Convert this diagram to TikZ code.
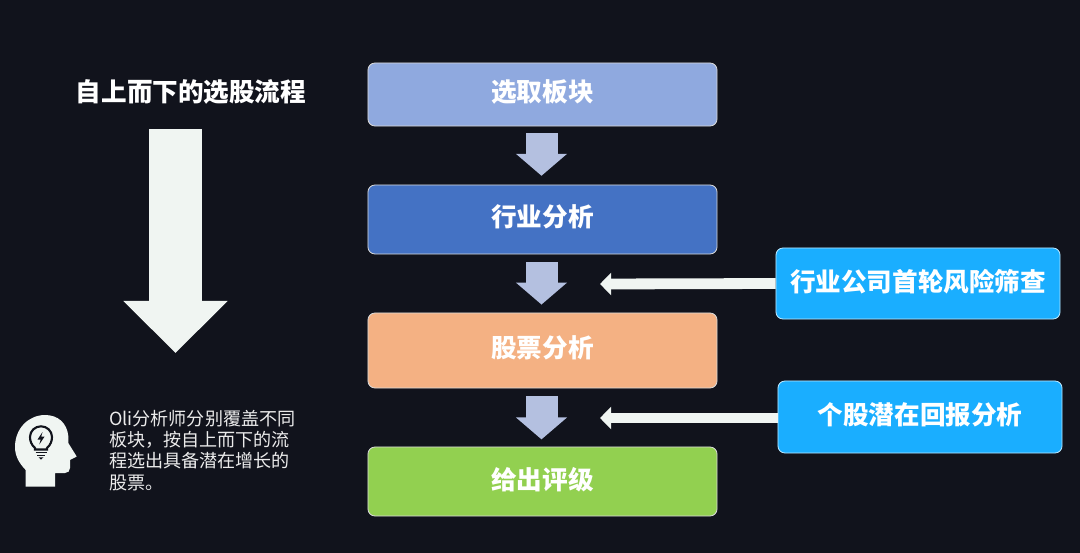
\documentclass[tikz,border=0pt]{standalone}
\usepackage{fontspec}
\newfontfamily\cjk{Noto Sans CJK SC}
\usetikzlibrary{arrows.meta}
\definecolor{bgdark}{HTML}{11131C}
\definecolor{arrowpale}{HTML}{F0F5F2}
\definecolor{arrowblue}{HTML}{B4C0E0}
\definecolor{stepblue}{HTML}{8FA9DF}
\definecolor{stepdeep}{HTML}{4472C4}
\definecolor{steporange}{HTML}{F4B183}
\definecolor{stepgreen}{HTML}{92D050}
\definecolor{sideblue}{HTML}{1AAEFF}
\begin{document}
\begin{tikzpicture}[
        x=0.025cm, y=-0.025cm,
        font=\cjk,
        stepbox/.style={draw=white!85!black, line width=0.6pt, rounded corners=5pt, minimum width=8.725cm, text=white, align=center, text depth=5pt, font=\cjk\bfseries\fontsize{18.2}{22}\selectfont},
        sidebox/.style={stepbox, draw=white!70!sideblue, fill=sideblue, minimum width=7.1cm},
        downarrow/.style={draw=arrowblue, line width=0.8cm, -{Triangle[length=0.55cm, width=1.25cm]}},
        sidearrow/.style={draw=arrowpale, line width=0.27cm, -{Triangle[length=0.28cm, width=0.55cm]}},
    ]

    %====================== FUNDO ======================
    \fill[bgdark] (0,0) rectangle (1080,553);
    \useasboundingbox (0,0) rectangle (1080,553);

    %====================== ETAPAS ======================
    \node[stepbox, fill=stepblue,   minimum height=1.575cm]  (st-sector)   at (542.5, 94.5)  {选取板块};
    \node[stepbox, fill=stepdeep,   minimum height=1.725cm]  (st-industry) at (542.5, 219.5) {行业分析};
    \node[stepbox, fill=steporange, minimum height=1.875cm]  (st-stock)    at (542.5, 350.5) {股票分析};
    \node[stepbox, fill=stepgreen,  minimum height=1.725cm]  (st-rating)   at (542.5, 481.5) {给出评级};

    \draw[downarrow, shorten <=0.18cm, shorten >=0.22cm] (st-sector) ++(-1,31.5) -- ([xshift=-0.025cm]st-industry.north);
    \draw[downarrow, shorten <=0.2cm, shorten >=0.2cm] (st-industry) ++(-1,34.5) -- ([xshift=-0.025cm]st-stock.north);
    \draw[downarrow, shorten <=0.2cm, shorten >=0.18cm] (st-stock) ++(-1,37.5) -- ([xshift=-0.025cm]st-rating.north);

    %====================== CAIXAS LATERAIS ======================
    \node[sidebox, minimum height=1.775cm] (sd-risk)   at (918, 283.5) {行业公司首轮风险筛查};
    \node[sidebox, minimum height=1.8cm]   (sd-return) at (920, 417)   {个股潜在回报分析};

    \coordinate (end-risk)   at (600, 284);
    \coordinate (end-return) at (600, 418);
    \draw[sidearrow] (sd-risk.west) -- (end-risk);
    \draw[sidearrow] (sd-return.west |- end-return) -- (end-return);

    %====================== TITULO E SETA ======================
    \node[text=white, font=\cjk\bfseries\fontsize{18.2}{22}\selectfont] (title) at (191, 92) {自上而下的选股流程};
    \coordinate (big-top) at (175.5, 129);
    \coordinate (big-tip) at (175.5, 353);
    \draw[draw=arrowpale, line width=1.3cm, -{Triangle[length=1.3cm, width=2.53cm]}] (big-top) -- (big-tip);

    %====================== NOTA ======================
    \node[anchor=north west, inner sep=0pt, text=white!92!black, align=left, font=\cjk\fontsize{12.85}{15.2}\selectfont] (note) at (109, 409.5) {Oli分析师分别覆盖不同\\板块，按自上而下的流\\程选出具备潜在增长的\\股票。};

    % cabeca com lampada
    \fill[arrowpale] (25.7,486.5) -- (25.7,470) .. controls (19,463) and (15,456) .. (15,447)
        .. controls (15,428) and (29,415) .. (45,415)
        .. controls (58,415) and (67,423) .. (68.3,436)
        -- (68.3,443) -- (76.7,456.5) -- (70,460) -- (70,468)
        .. controls (70,471) and (68,473) .. (65,473) -- (55,473) -- (55,486.5) -- cycle;
    \draw[bgdark, line width=1.5pt] (35,448) .. controls (31.5,445) and (30,441) .. (30,437)
        .. controls (30,431) and (35,426.3) .. (41,426.3)
        .. controls (47,426.3) and (52,431) .. (52,437)
        .. controls (52,441) and (50.5,445) .. (47,448) -- (47,449.5) -- (35,449.5) -- cycle;
    \fill[bgdark] (42.5,432) -- (37.5,439.5) -- (40.7,439.5) -- (39.3,444.5) -- (44.5,436.7) -- (41.2,436.7) -- cycle;
    \draw[bgdark, line width=1pt] (35.5,452.5) -- (46.5,452.5);
    \draw[bgdark, line width=1pt] (37,455.5) -- (45,455.5);
    \fill[bgdark] (38.5,457.3) -- (43.5,457.3) -- (41,459.5) -- cycle;

\end{tikzpicture}
\end{document}
